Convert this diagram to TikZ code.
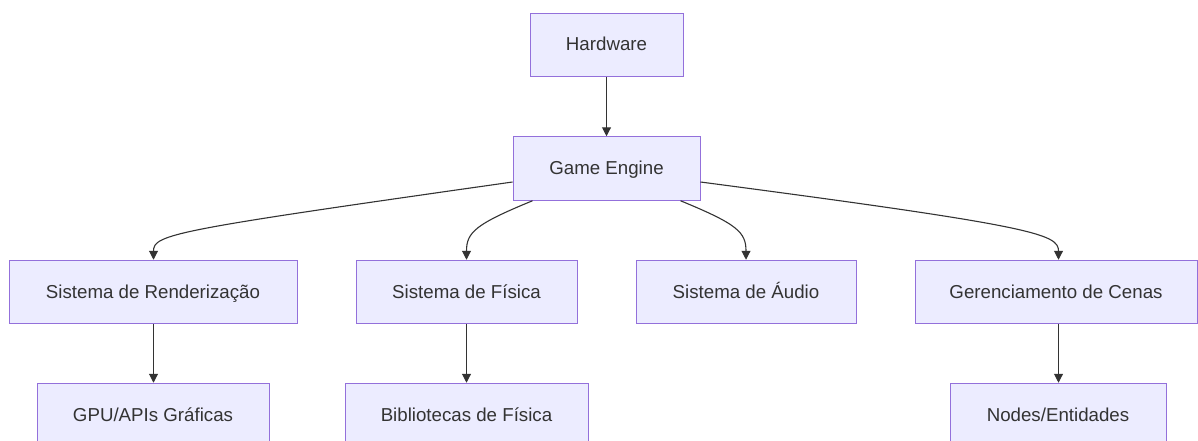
\documentclass[tikz,border=0pt]{standalone}
\usepackage{fontspec}
\setmainfont{Liberation Sans}
\usetikzlibrary{arrows.meta,calc}
\definecolor{boxfill}{HTML}{ECECFF}
\definecolor{boxline}{HTML}{9370DB}
\definecolor{ink}{HTML}{333333}
\tikzset{
  box/.style={draw=boxline, fill=boxfill, line width=1pt, inner sep=0pt,
    minimum height=63.5pt, text height=16pt, text depth=4pt, text=ink,
    font=\fontsize{18.7}{22}\selectfont},
  link/.style={draw=ink, line width=1.1pt, -{Triangle[length=9pt,width=9pt]}},
}
\begin{document}
\begin{tikzpicture}[x=1pt,y=-1pt]
\useasboundingbox (0,0) rectangle (1198,441);
\node[box, minimum width=153pt] (hw) at (606.5,45) {Hardware};
\node[box, minimum width=187pt] (ge) at (606.5,168.5) {Game Engine};
\node[box, minimum width=288pt] (ren) at (153,292) {Sistema de Renderização};
\node[box, minimum width=221pt] (fis) at (466.5,292) {Sistema de Física};
\node[box, minimum width=220pt] (aud) at (746,292) {Sistema de Áudio};
\node[box, minimum width=282pt] (cen) at (1056,292) {Gerenciamento de Cenas};
\node[box, minimum width=232pt] (gpu) at (153,415) {GPU/APIs Gráficas};
\node[box, minimum width=243pt] (bib) at (466.5,415) {Bibliotecas de Física};
\node[box, minimum width=216pt] (ent) at (1058,415) {Nodes/Entidades};

\draw[link] (hw) -- (ge);
\draw[link] ($(ge.west)+(0,13.5)$) .. controls (175,230) and (153.5,234) .. ($(ren.north)+(0.5,0)$);
\draw[link] ($(ge.south west)+(20,0)$) .. controls (476,224) and (466.5,232) .. (fis.north);
\draw[link] ($(ge.south east)+(-20,0)$) .. controls (737,224) and (746,232) .. (aud.north);
\draw[link] ($(ge.east)+(0,13.5)$) .. controls (1035,226) and (1058.5,234) .. ($(cen.north)+(2.5,0)$);
\draw[link] ($(ren.south)+(0.5,0)$) -- ($(gpu.north)+(0.5,0)$);
\draw[link] (fis) -- (bib);
\draw[link] ($(cen.south)+(2.5,0)$) -- ($(ent.north)+(0.5,0)$);
\end{tikzpicture}
\end{document}
